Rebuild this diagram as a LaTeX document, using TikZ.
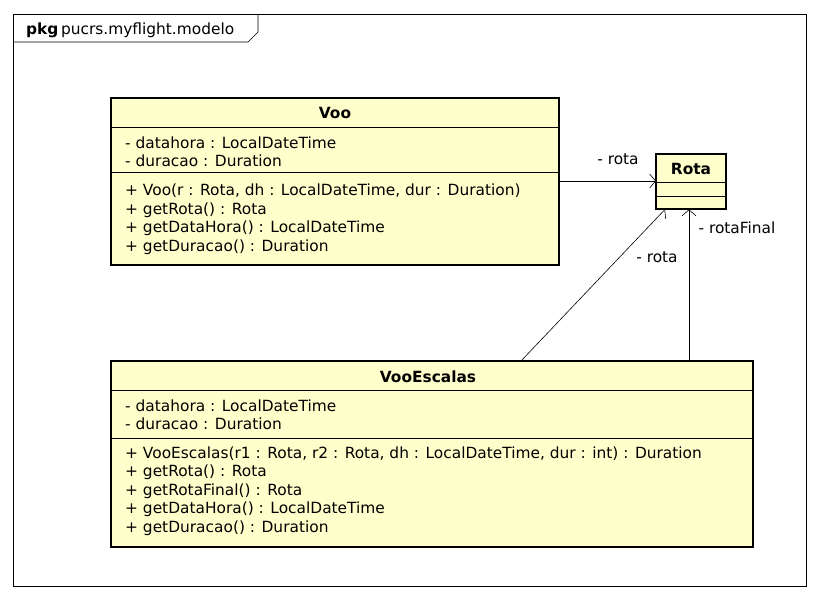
\documentclass[tikz,border=0pt]{standalone}
\usepackage{fontspec}
\setmainfont{DejaVu Sans}
\usetikzlibrary{arrows.meta,positioning}
\definecolor{classfill}{HTML}{FFFFCC}
\begin{document}
\begin{tikzpicture}[x=1pt,y=-1pt,
	class box/.style={draw,line width=2.2pt,fill=classfill,inner sep=0pt},
	member/.style={anchor=west,inner sep=0pt,font=\fontsize{15.4}{18.5}\selectfont,align=left},
	title/.style={inner sep=0pt,font=\fontsize{15.4}{18}\selectfont\bfseries},
	role/.style={inner sep=1pt,font=\fontsize{15.4}{18}\selectfont},
	assoc/.style={-{Straight Barb[length=6pt,width=14pt]},line width=0.6pt}]
	\useasboundingbox (0,0) rectangle (820,600);
	
	% package frame
	\draw[line width=0.6pt] (13,14) rectangle (806,586);
	\draw[line width=0.6pt] (13,42) -- (248,42) -- (258,32) -- (258,14);
	\node[anchor=west,inner sep=0pt,font=\fontsize{15.4}{18}\selectfont] (pkg) at (26,30) {\textbf{pkg}\,pucrs.myflight.modelo};
	
	% Voo
	\draw[class box] (111,98) rectangle (559,265);
	\node[minimum width=448,minimum height=167,anchor=north west,inner sep=0pt] (voo) at (111,98) {};
	\draw[line width=0.6pt] (111,127) -- (559,127);
	\draw[line width=0.6pt] (111,172) -- (559,172);
	\node[title] (vooT) at (335,113) {Voo};
	\node[member] (vooA) at (125,152) {- datahora : LocalDateTime\\- duracao : Duration};
	\node[member] (vooM) at (125,219) {+ Voo(r : Rota, dh : LocalDateTime, dur : Duration)\\+ getRota() : Rota\\+ getDataHora() : LocalDateTime\\+ getDuracao() : Duration};
	
	% Rota
	\draw[class box] (656,154) rectangle (726,209);
	\node[minimum width=70,minimum height=55,anchor=north west,inner sep=0pt] (rota) at (656,154) {};
	\draw[line width=0.6pt] (656,182) -- (726,182);
	\draw[line width=0.6pt] (656,196) -- (726,196);
	\node[title] (rotaT) at (691,169) {Rota};
	
	% VooEscalas
	\draw[class box] (111,361) rectangle (753,547);
	\node[minimum width=642,minimum height=186,anchor=north west,inner sep=0pt] (esc) at (111,361) {};
	\draw[line width=0.6pt] (111,390) -- (753,390);
	\draw[line width=0.6pt] (111,438) -- (753,438);
	\node[title] (escT) at (428,377) {VooEscalas};
	\node[member] (escA) at (125,415) {- datahora : LocalDateTime\\- duracao : Duration};
	\node[member] (escM) at (125,491) {+ VooEscalas(r1 : Rota, r2 : Rota, dh : LocalDateTime, dur : int) : Duration\\+ getRota() : Rota\\+ getRotaFinal() : Rota\\+ getDataHora() : LocalDateTime\\+ getDuracao() : Duration};
	
	% associations
	\draw[assoc] (voo.east |- 0,181) -- (rota.west |- 0,181);
	\draw[assoc] (esc.north -| 521,0) -- (rota.south -| 665,0);
	\draw[assoc] (esc.north -| 689,0) -- (rota.south -| 689,0);
	\node[role] (r1) at (618,159) {- rota};
	\node[role] (r2) at (657,257) {- rota};
	\node[role] (r3) at (737,228) {- rotaFinal};
\end{tikzpicture}
\end{document}
